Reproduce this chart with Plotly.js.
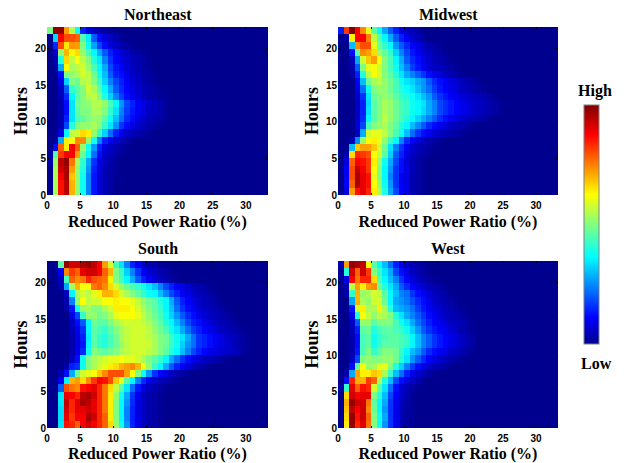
<!DOCTYPE html>
<html><head><meta charset="utf-8"><script src="https://cdn.plot.ly/plotly-3.0.1.min.js"></script>
<style>html,body{margin:0;padding:0;background:#fff}</style></head><body><div id="g" style="width:626px;height:463px"></div>
<script>
// Each list runs from the top row (hour 22) to the bottom row (hour 0); columns start at 0 %.
const northeast=[
[50,98,98,72,55,37,14,8,5,3,2,1],
[0,33,88,80,80,78,45,35,20,12,8,5,3,1],
[0,15,80,65,73,72,50,38,27,18,12,7,5,3,2,1],
[0,6,52,70,63,66,52,44,36,28,20,14,10,7,5,3,2,1],
[0,3,40,66,56,62,56,50,40,34,24,16,11,8,6,4,3,2,1],
[0,2,28,62,54,56,58,52,44,36,28,18,13,10,7,5,3,2,1],
[0,0,12,50,52,54,58,56,48,38,30,20,14,12,9,6,4,3,2,1],
[0,0,8,32,50,48,55,56,50,42,32,24,18,14,10,7,5,3,2,1],
[0,0,5,20,42,46,50,58,54,46,36,28,20,15,11,8,6,4,3,2,1],
[0,0,4,15,36,46,50,55,56,50,40,32,24,17,12,9,7,5,3,2,1,1],
[0,0,3,12,34,48,50,52,55,55,52,44,36,26,18,14,10,8,6,4,3,1],
[0,0,3,12,34,46,50,50,54,54,50,42,34,24,17,13,10,8,5,4,3,1],
[0,0,3,14,34,44,46,50,52,52,46,38,30,22,15,12,8,6,4,3,2,1],
[0,0,4,18,40,50,52,52,54,50,42,34,26,16,12,8,6,4,3,2,1],
[0,0,8,36,56,58,66,64,52,42,32,22,14,9,6,4,3,2,1],
[0,2,28,64,62,74,74,52,38,24,14,9,6,4,2,1],
[0,12,78,64,88,78,52,38,26,14,8,5,3,2,1],
[2,45,82,88,88,72,48,36,22,12,6,4,2,1],
[3,52,94,98,76,54,42,28,16,9,5,3,1],
[0,54,92,96,72,52,40,26,14,8,4,2,1],
[0,54,88,96,68,52,38,24,13,7,4,2,1],
[0,54,86,94,70,52,38,24,13,7,4,2],
[0,54,86,94,70,52,38,24,13,7,4,2]];
const midwest=[
[14,82,100,88,74,60,46,36,28,20,14,8,5,3,2],
[0,2,64,88,88,75,56,45,36,28,20,14,10,6,4,2],
[0,0,30,74,80,80,60,48,42,36,26,20,15,10,8,5,3,2,1],
[0,0,12,46,74,72,66,52,47,42,32,24,18,13,10,7,5,3,2,1],
[0,0,4,28,58,68,72,62,50,44,36,28,20,15,12,9,6,4,3,2,1],
[0,0,3,20,50,60,62,58,50,44,38,30,24,17,13,10,7,5,4,3,2,1],
[0,0,2,14,40,56,62,58,50,46,40,34,28,24,20,16,12,9,7,5,4,2,1],
[0,0,0,10,30,48,54,56,52,48,44,38,34,32,28,26,20,15,12,10,8,6,4,3,2,1],
[0,0,0,8,22,38,50,52,52,48,44,40,37,34,30,26,22,17,13,11,9,7,5,4,3,2,1],
[0,0,0,6,16,34,48,50,52,50,46,42,40,37,34,30,26,20,16,13,11,9,7,6,5,4,3,2,1],
[0,0,0,5,14,33,46,50,54,52,48,44,42,38,36,34,28,24,18,15,13,11,9,8,6,5,4,3,2,1],
[0,0,0,5,14,34,46,50,54,52,48,44,42,38,36,33,28,24,18,15,13,11,9,8,6,5,4,3,2,1],
[0,0,0,6,15,36,46,50,56,52,48,44,40,36,32,28,24,20,15,12,10,8,6,5,4,3,2,1],
[0,0,0,7,18,44,50,52,54,50,46,40,36,30,25,20,15,12,9,7,5,4,3,2,1],
[0,0,0,5,28,58,60,60,56,50,44,38,30,22,16,12,9,7,5,4,3,2,1],
[0,0,4,25,52,62,64,60,52,42,36,24,15,10,7,5,3,2,1],
[0,0,30,68,72,72,68,58,48,34,24,16,10,6,4,3,2,1],
[0,3,66,84,82,80,62,58,46,32,20,14,8,5,3,2,1],
[0,8,78,88,86,82,64,52,38,28,18,12,7,4,2,1],
[0,10,80,94,88,82,62,50,36,26,16,12,8,4,2,1],
[0,10,80,96,90,86,60,50,36,24,16,10,8,3,2,1],
[0,11,78,96,90,86,62,52,38,26,16,10,8,3,2,1],
[0,8,72,86,90,84,64,54,40,28,18,11,8,3,2,1]];
const south=[
[0,0,46,98,92,92,96,98,94,88,72,58,44,34,24,14,10,5,3,2,1],
[0,0,10,74,82,78,90,92,92,88,78,70,50,42,32,24,16,10,7,5,3,2,1],
[0,0,5,44,78,74,76,84,80,78,76,64,50,44,36,28,20,14,10,7,5,3,2,1],
[0,0,3,28,54,70,62,62,76,78,74,66,58,52,48,44,42,38,34,30,24,18,14,10,8,6,4,3,2,1],
[0,0,0,4,36,54,58,56,60,64,70,70,66,58,54,50,46,42,38,36,30,24,18,14,10,8,6,4,3,2,1],
[0,0,0,3,24,52,62,56,58,58,62,62,64,62,62,60,56,52,48,46,40,36,28,20,14,11,8,6,4,3,2,1],
[0,0,0,2,13,38,52,54,50,50,54,58,64,64,64,62,58,54,50,46,42,36,30,22,16,12,10,7,5,4,3,2,1],
[0,0,0,0,8,18,42,52,52,48,50,54,60,62,62,62,60,56,52,48,44,38,32,26,20,15,12,9,7,5,4,3,2,1],
[0,0,0,0,5,12,20,36,48,46,46,50,54,56,58,58,58,56,54,50,46,40,36,30,24,18,14,12,9,7,5,4,3,2,1],
[0,0,0,0,4,9,16,36,46,44,42,46,50,54,56,58,58,58,56,52,48,44,38,34,28,22,17,14,11,9,7,5,4,3,2,1],
[0,0,0,0,3,8,14,35,46,42,40,44,48,54,56,58,58,58,56,54,50,48,42,38,34,28,22,16,14,12,10,8,6,5,3,2,1],
[0,0,0,0,3,8,13,36,46,42,40,44,48,52,56,58,58,58,58,54,50,48,42,38,32,26,22,16,14,12,10,8,7,5,3,2,1],
[0,0,0,0,3,9,15,38,50,48,46,48,50,54,56,58,58,58,56,54,50,46,40,36,30,24,18,14,11,9,8,7,6,5,4,2,1],
[0,0,0,0,5,12,38,50,54,56,58,60,60,62,60,60,58,54,50,46,42,36,28,22,16,12,9,7,5,4,3,2,1],
[0,0,0,3,14,16,38,50,54,58,60,64,66,70,72,74,70,62,52,42,36,28,20,14,10,7,5,3,2,1],
[0,0,3,12,28,48,58,60,62,68,74,80,80,80,72,62,50,38,26,16,11,8,5,3,2,1],
[0,0,10,36,70,72,66,74,82,88,86,80,68,60,46,36,24,15,9,6,4,3,2,1],
[0,0,20,80,76,74,86,88,90,84,76,66,56,46,34,22,13,8,5,3,2,1],
[0,0,34,90,88,84,94,96,92,84,76,64,52,38,28,16,9,5,3,2,1],
[0,0,34,94,84,90,96,94,90,84,76,64,50,36,26,15,8,5,3,2,1],
[0,0,33,92,84,90,90,92,90,84,76,64,50,36,24,14,8,5,3,2,1],
[0,0,33,90,82,88,88,96,92,84,78,64,50,36,24,14,8,5,3,2,1],
[0,0,34,86,84,78,88,92,88,84,78,66,52,38,26,14,8,5,3,2,1]];
const west=[
[4,72,98,96,94,62,46,36,30,22,14,8,5,3,2,1],
[1,40,92,78,92,82,50,42,34,28,18,12,8,5,3,2,1],
[0,8,88,76,84,84,66,44,36,30,24,16,11,7,5,3,2,1],
[0,3,56,72,64,72,74,48,40,34,28,20,15,11,8,6,4,3,2,1],
[0,2,42,70,52,54,58,56,46,36,30,24,22,16,12,10,7,5,3,2,1],
[0,0,28,70,54,52,58,58,48,36,28,26,23,19,15,12,9,6,4,3,2,1],
[0,0,13,58,64,54,54,64,54,40,30,28,26,22,17,13,10,8,6,4,3,2,1],
[0,0,9,40,62,56,52,56,54,50,40,34,28,24,20,16,12,10,7,5,4,3,2,1],
[0,0,5,20,52,52,46,50,50,50,44,38,34,28,22,18,14,11,9,7,5,4,3,2,1],
[0,0,4,14,46,48,40,44,46,46,44,42,38,32,26,20,16,13,11,9,7,5,3,2,1],
[0,0,3,12,44,46,38,42,44,46,46,44,42,36,30,24,20,16,13,11,9,7,5,3,2],
[0,0,3,12,44,46,38,42,46,46,46,44,42,36,30,24,20,16,13,11,9,7,5,3,2],
[0,0,3,13,44,50,42,46,50,50,48,42,36,30,26,20,15,12,10,8,6,5,3,2,1],
[0,0,5,18,50,52,50,50,52,52,48,40,34,26,20,15,11,8,6,4,3,2,1],
[0,0,12,46,62,52,54,60,60,50,40,32,24,17,12,9,6,4,3,2,1],
[0,3,28,72,64,64,68,66,54,42,30,22,14,9,6,4,2,1],
[0,12,84,70,70,82,78,54,40,30,18,12,8,5,3,1],
[2,42,90,78,86,84,58,46,34,22,12,7,4,2,1],
[0,66,92,88,90,90,50,40,30,18,10,6,3,1],
[0,70,98,92,92,76,46,36,28,16,9,5,2,1],
[0,68,94,88,92,74,48,36,26,16,9,4,2,1],
[0,66,98,86,92,78,50,38,28,16,9,4,2,1],
[0,64,98,84,90,76,50,38,26,16,9,4,2,1]];

const panelNames=['Northeast','Midwest','South','West'];
const xTitle='Reduced Power Ratio (%)';
const yTitle='Hours';
const xTicks=[0,5,10,15,20,25,30];
const yTicks=[0,5,10,15,20];
const cellWidth=100/120, columnCount=40, rowCount=23;
const xEdges=Array.from({length:columnCount+1},(_,i)=>i*cellWidth);
const yEdges=Array.from({length:rowCount+1},(_,i)=>i);
const jet=[[0,'rgb(0,0,143)'],[0.11,'rgb(0,0,255)'],[0.365,'rgb(0,255,255)'],[0.5,'rgb(128,255,128)'],[0.625,'rgb(255,255,0)'],[0.875,'rgb(255,0,0)'],[1,'rgb(128,0,0)']];
const W=626,H=463;
const boxes=[[47,268,27,195],[338,558,27,195],[47,268,261,428],[338,558,261,428]];
const serif='"Liberation Serif",serif', sans='"Liberation Sans",sans-serif';
const toGrid=rows=>rows.slice().reverse().map(r=>r.concat(Array(columnCount-r.length).fill(0)));
const grids=[northeast,midwest,south,west].map(toGrid);
const layout={width:W,height:H,margin:{l:0,r:0,t:0,b:0},paper_bgcolor:'#fff',plot_bgcolor:'#00008f',showlegend:false,annotations:[]};
const data=grids.map((z,i)=>{
  const s=i?String(i+1):'', b=boxes[i];
  const common={showgrid:false,zeroline:false,ticks:'inside',ticklen:2,tickwidth:1,tickcolor:'#000',mirror:'ticks',showline:false,tickfont:{family:sans,size:10,color:'#000',weight:'bold'}};
  layout['xaxis'+s]=Object.assign({},common,{domain:[b[0]/W,b[1]/W],range:[0,100/3],tickmode:'array',tickvals:xTicks,anchor:'y'+s,ticklabelstandoff:3,
    title:{text:xTitle,font:{family:serif,size:16,color:'#000',weight:'bold'},standoff:5}});
  layout['yaxis'+s]=Object.assign({},common,{domain:[1-b[3]/H,1-b[2]/H],range:[0,23],tickmode:'array',tickvals:yTicks,anchor:'x'+s,
    title:{text:yTitle,font:{family:serif,size:18,color:'#000',weight:'bold'},standoff:2}});
  layout.annotations.push({text:'<b>'+panelNames[i]+'</b>',xref:'paper',yref:'paper',x:(b[0]+b[1])/2/W,y:1-(b[2]-12)/H,xanchor:'center',yanchor:'middle',showarrow:false,font:{family:serif,size:16,color:'#000'}});
  const t={type:'heatmap',x:xEdges,y:yEdges,z:z,xaxis:'x'+s,yaxis:'y'+s,zmin:0,zmax:100,colorscale:jet,showscale:false,hoverinfo:'skip'};
  if(i===0){t.showscale=true;t.colorbar={x:584/W,xanchor:'left',y:1-344/H,yanchor:'bottom',lenmode:'pixels',len:239,thicknessmode:'pixels',thickness:15,xpad:0,ypad:0,showticklabels:false,ticks:'',outlinecolor:'#808080',outlinewidth:1,borderwidth:0};}
  return t;
});
layout.annotations.push({text:'<b>High</b>',xref:'paper',yref:'paper',x:595/W,y:1-91/H,xanchor:'center',yanchor:'middle',showarrow:false,font:{family:serif,size:16,color:'#000'}});
layout.annotations.push({text:'<b>Low</b>',xref:'paper',yref:'paper',x:596/W,y:1-363/H,xanchor:'center',yanchor:'middle',showarrow:false,font:{family:serif,size:16,color:'#000'}});
Plotly.newPlot('g',data,layout,{staticPlot:true,displayModeBar:false});
</script></body></html>
